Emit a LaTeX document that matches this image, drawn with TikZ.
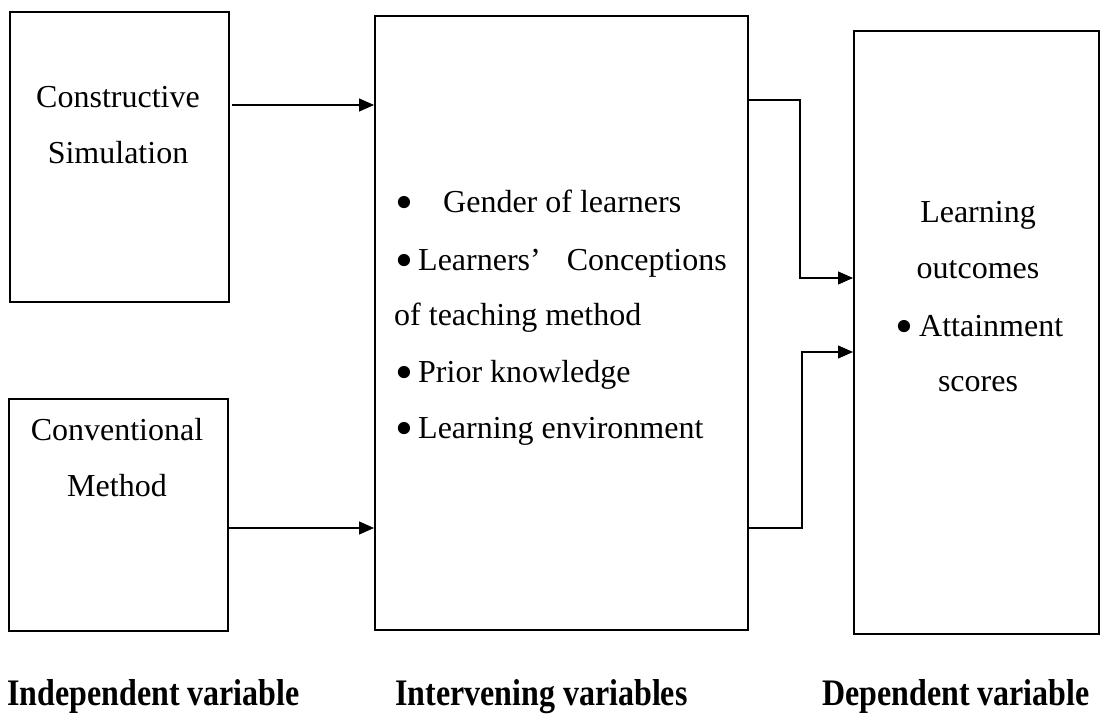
\documentclass[tikz,border=0pt]{standalone}
\usepackage{fontspec}
\usepackage{graphicx}
\setmainfont{Liberation Serif}
\usetikzlibrary{arrows.meta}
\newcommand{\bul}{\makebox[11.2pt][l]{\raisebox{-7pt}{\scalebox{1.6}{•}}}}

\begin{document}
\begin{tikzpicture}[x=1pt, y=-1pt,
    box/.style={draw, line width=2.2pt, rectangle, anchor=north west, inner sep=0pt},
    conn/.style={line width=1.1pt, -{Triangle[length=15pt,width=13pt]}},
    txt/.style={anchor=base, inner sep=0pt, font=\fontsize{32}{38}\selectfont},
    item/.style={txt, anchor=base west},
    heading/.style={anchor=base west, inner sep=0pt, font=\fontsize{32}{38}\selectfont\bfseries}]
    \useasboundingbox (0,0) rectangle (1101,713);
    \begin{scope}
      \node[box, minimum width=219pt, minimum height=290pt] (simbox) at (9,11) {};
      \node[box, minimum width=219pt, minimum height=232pt] (convbox) at (8,398) {};
      \node[box, minimum width=373pt, minimum height=614pt] (interbox) at (374,15) {};
      \node[box, minimum width=245pt, minimum height=603pt] (depbox) at (853,30) {};
    \end{scope}
    \begin{scope}
      \node[txt] (cons) at (118,107) {Constructive};
      \node[txt] (simu) at (118,163) {Simulation};
      \node[txt] (conv) at (117,440) {Conventional};
      \node[txt] (meth) at (117,496) {Method};
      \node[item] (gender) at (395,212) {\bul\hspace{36.8pt}Gender of learners};
      \node[item] (concep) at (395,270) {\bul\hspace{11.8pt}Learners’\hspace{26pt}Conceptions};
      \node[item] (teach) at (394,325) {of teaching method};
      \node[item] (prior) at (395,382) {\bul\hspace{11.8pt}Prior knowledge};
      \node[item] (envir) at (395,438) {\bul\hspace{11.8pt}Learning environment};
      \node[txt] (learn) at (978,222) {Learning};
      \node[txt] (outc) at (978,278) {outcomes};
      \node[item] (attain) at (895,336) {\bul\hspace{12.8pt}Attainment};
      \node[txt] (score) at (978,391) {scores};
    \end{scope}
    \begin{scope}
      \coordinate (simout) at (232,105);
      \draw[conn] (simout) -- (interbox.west |- simout);
      \draw[conn] (convbox.east |- 0,528) -- (interbox.west |- 0,528);
      \draw[conn] (interbox.east |- 0,100) -| (800,278) -- (depbox.west |- 0,278);
      \draw[conn] (interbox.east |- 0,528) -| (802,352) -- (depbox.west |- 0,352);
    \end{scope}
    \node[heading] (indep) at (7,705) {\scalebox{1}[1.17]{Independent variable}};
    \node[heading] (interv) at (395,705) {\scalebox{1}[1.17]{Intervening variables}};
    \node[heading] (depen) at (822,705) {\scalebox{1}[1.17]{Dependent variable}};
  \end{tikzpicture}
\end{document}
